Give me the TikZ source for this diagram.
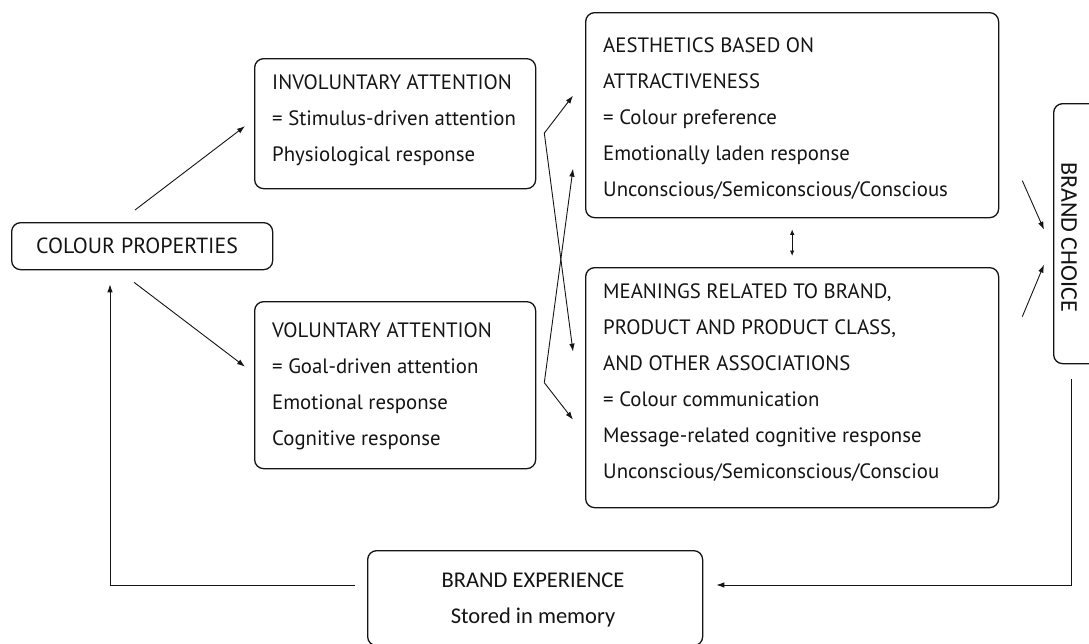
\documentclass[tikz,border=0pt]{standalone}
\usepackage{fontspec}
\setmainfont{PT Sans}
\newfontfamily\calfont{Carlito}
\usetikzlibrary{arrows.meta,calc}
\definecolor{ink}{HTML}{141414}
\begin{document}
\begin{tikzpicture}[x=1pt,y=-1pt,
  box/.style={draw=ink, line width=1.3pt, rounded corners=9pt, inner sep=0pt, anchor=north west},
  body/.style={anchor=base west, inner sep=0pt, align=left, text=ink,
    font=\fontsize{20.8}{36}\selectfont},
  arr/.style={-{Latex[length=8pt,width=5.5pt]}, line width=0.9pt, draw=ink},
  dbl/.style={{Latex[length=5.5pt,width=4.5pt]}-{Latex[length=5.5pt,width=4.5pt]}, line width=0.9pt, draw=ink},
]
\useasboundingbox (0,0) rectangle (1089,643);

% boxes
\node[box, minimum width=261pt, minimum height=47pt] (cp) at (11,222) {};
\node[box, minimum width=281pt, minimum height=130pt] (inv) at (254,58) {};
\node[box, minimum width=281pt, minimum height=167pt] (vol) at (254,301) {};
\node[box, minimum width=413pt, minimum height=205pt] (aes) at (585,12) {};
\node[box, minimum width=413pt, minimum height=240pt] (mean) at (585,267) {};
\node[box, minimum width=50pt, minimum height=260pt] (bc) at (1053,103) {};
\node[box, minimum width=335pt, minimum height=95pt] (be) at (367,550) {};

% texts (base anchor sits on the last line)
\node[anchor=base, inner sep=0pt, text=ink, font=\fontsize{21.9}{24}\selectfont] (cpt) at (137,253) {COLOUR PROPERTIES};
\node[body] (invt) at (272,161) {INVOLUNTARY ATTENTION\\= Stimulus-driven attention\\Physiological response};
\node[body] (volt) at (272,445) {VOLUNTARY ATTENTION\\= Goal-driven attention\\Emotional response\\Cognitive response};
\node[body] (aest) at (603,196) {AESTHETICS BASED ON\\ATTRACTIVENESS\\= Colour preference\\Emotionally laden response\\Unconscious/Semiconscious/Conscious};
\node[body] (meant) at (603,478) {MEANINGS RELATED TO BRAND,\\PRODUCT AND PRODUCT CLASS,\\AND OTHER ASSOCIATIONS\\= Colour communication\\Message-related cognitive response\\Unconscious/Semiconscious/Consciou};
\node[anchor=center, inner sep=0pt, text=ink, rotate=-90, font=\calfont\fontsize{24}{26}\selectfont] (bct) at (1069,237) {BRAND CHOICE};
\node[anchor=base, inner sep=0pt, align=center, text=ink, font=\calfont\fontsize{22.5}{36}\selectfont] (bet) at (533,623) {BRAND EXPERIENCE\\Stored in memory};

% colour properties to the two kinds of attention
\draw[arr] ($(cp.north west)+(124,-12)$) -- ($(inv.west)+(-9,2.5)$);
\draw[arr] ($(cp.south west)+(123,12)$) -- ($(vol.west)+(-9,-18.5)$);

% attention to aesthetics and meanings
\coordinate (ia) at ($(inv.east)+(8,9.5)$);
\coordinate (va) at ($(vol.east)+(8,-2.5)$);
\draw[arr] (ia) -- ($(aes.west)+(-12,-19.5)$);
\draw[arr] (ia) -- ($(mean.west)+(-12,-36)$);
\draw[arr] (va) -- ($(aes.west)+(-12,53.5)$);
\draw[arr] (va) -- ($(mean.west)+(-12,32)$);

% aesthetics and meanings
\draw[dbl] ($(aes.south)+(0,11)$) -- ($(mean.north)+(0,-11)$);

% into brand choice
\draw[arr] ($(aes.east)+(23,65.5)$) -- ($(bc.west)+(-9,-4)$);
\draw[arr] ($(mean.east)+(23,-71)$) -- ($(bc.west)+(-9,31)$);

% feedback loop
\draw[arr] ($(bc.south west)+(18,15)$) |- ($(be.north east)+(13,35)$);
\draw[arr] ($(be.north west)+(-12,35)$) -| ($(cp.south west)+(99,14)$);
\end{tikzpicture}
\end{document}
